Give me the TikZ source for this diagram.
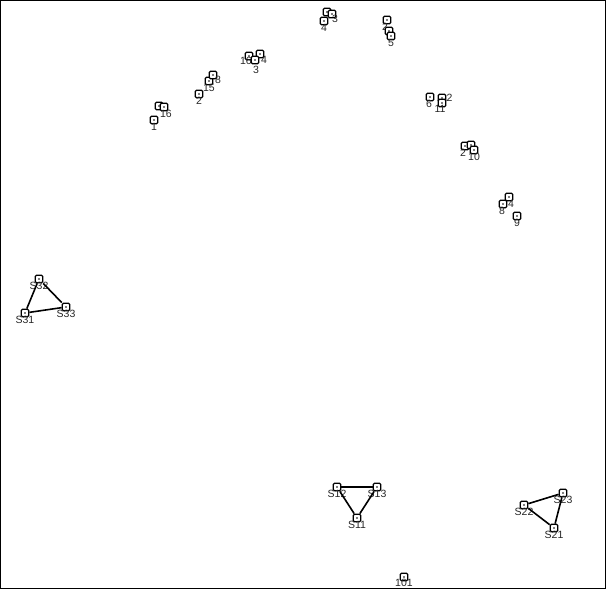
\documentclass[tikz,border=0pt]{standalone}
\usepackage{fontspec}
\setmainfont{Liberation Sans}

\tikzstyle{vertex} = [rectangle, draw=black, fill=white, line width=1.3pt,
minimum size=7.5pt, inner sep=0pt, rounded corners=1.2pt,
path picture={\fill[black] (path picture bounding box.center) circle (0.9pt);}]
\tikzstyle{lbl} = [font=\fontsize{10.5}{10.5}\selectfont, text=black!85, inner sep=0pt, label distance=-1pt]
\tikzstyle{line} = [draw, line width=1.6pt]

\begin{document}
\begin{tikzpicture}[x=1pt,y=-1pt]

\useasboundingbox (0,0) rectangle (606,589);
\draw[black, line width=0.8pt] (0.5,0.5) rectangle (605.5,588.5);

	%Nodes on the outer ring
	\node[vertex,label={[lbl]below:1}](v1) at (154,120) {};
	\node[vertex](v16b) at (159,106) {};
	\node[vertex,label={[lbl,xshift=2pt]below:16}](v16) at (164,107) {};
	\node[vertex,label={[lbl]below:2}](v2) at (199,94) {};
	\node[vertex,label={[lbl]below:15}](v15) at (209,81) {};
	\node[vertex,label={[lbl,xshift=5pt,yshift=2pt]below:8}](v8b) at (213,75) {};
	\node[vertex,label={[lbl,xshift=-3pt,yshift=2pt]below:16}](v18) at (249,56) {};
	\node[vertex,label={[lbl,xshift=4pt,yshift=1pt]below:4}](v4b) at (260,54) {};
	\node[vertex,label={[lbl,xshift=1pt,yshift=-3pt]below:3}](v3) at (255,60) {};
	\node[vertex](v13b) at (327,12) {};
	\node[vertex,label={[lbl,xshift=3pt,yshift=2pt]below:3}](v13) at (332,14) {};
	\node[vertex,label={[lbl]below:4}](v4) at (324,21) {};
	\node[vertex,label={[lbl,xshift=-2pt]below:2}](v2b) at (387,20) {};
	\node[vertex](v5b) at (389,31) {};
	\node[vertex,label={[lbl]below:5}](v5) at (391,36) {};
	\node[vertex,label={[lbl,xshift=-1pt]below:6}](v6) at (430,97) {};
	\node[vertex,label={[lbl,label distance=0pt]right:2}](v12) at (442,98) {};
	\node[vertex,label={[lbl,xshift=-2pt,yshift=1pt]below:11}](v11) at (442,103) {};
	\node[vertex,label={[lbl,xshift=-2pt]below:2}](v7) at (465,146) {};
	\node[vertex](v10b) at (471,145) {};
	\node[vertex,label={[lbl]below:10}](v10) at (474,150) {};
	\node[vertex,label={[lbl,xshift=2pt]below:4}](v14) at (509,197) {};
	\node[vertex,label={[lbl,xshift=-1pt]below:8}](v8) at (503,204) {};
	\node[vertex,label={[lbl]below:9}](v9) at (517,216) {};
	\node[vertex,label={[lbl,yshift=1.5pt]below:101}](v101) at (404,577) {};

	%Nodes of the three triangles
	\node[vertex,label={[lbl]below:S32}](S32) at (39,279) {};
	\node[vertex,label={[lbl]below:S31}](S31) at (25,313) {};
	\node[vertex,label={[lbl]below:S33}](S33) at (66,307) {};
	\node[vertex,label={[lbl]below:S12}](S12) at (337,487) {};
	\node[vertex,label={[lbl]below:S13}](S13) at (377,487) {};
	\node[vertex,label={[lbl]below:S11}](S11) at (357,518) {};
	\node[vertex,label={[lbl]below:S22}](S22) at (524,505) {};
	\node[vertex,label={[lbl]below:S23}](S23) at (563,493) {};
	\node[vertex,label={[lbl]below:S21}](S21) at (554,528) {};

	%Edges of the triangles
	\path[line] (S31) -- (S32);
	\path[line] (S32) -- (S33);
	\path[line] (S33) -- (S31);
	\path[line] (S11) -- (S12);
	\path[line] (S12) -- (S13);
	\path[line] (S13) -- (S11);
	\path[line] (S21) -- (S22);
	\path[line] (S22) -- (S23);
	\path[line] (S23) -- (S21);

\end{tikzpicture}
\end{document}
